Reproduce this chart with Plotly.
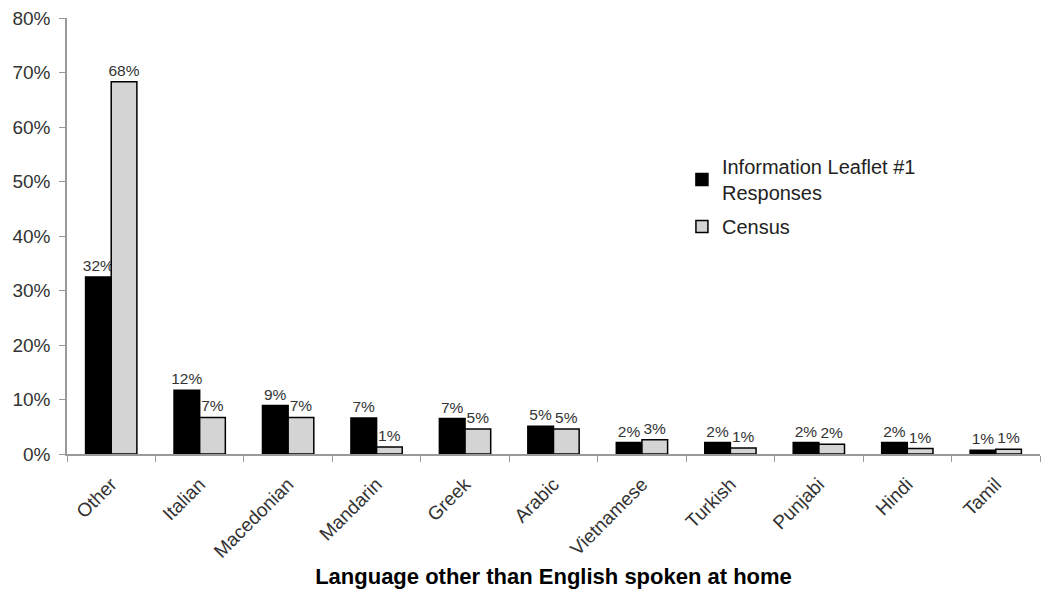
import plotly.graph_objects as go

languages = ["Other", "Italian", "Macedonian", "Mandarin", "Greek", "Arabic",
             "Vietnamese", "Turkish", "Punjabi", "Hindi", "Tamil"]
leaflet = [32.5, 11.7, 8.9, 6.6, 6.5, 5.1, 2.1, 2.1, 2.1, 2.1, 0.7]
census = [68.3, 6.7, 6.7, 1.3, 4.6, 4.6, 2.6, 1.1, 1.8, 1.0, 0.85]
leaflet_labels = ["32%", "12%", "9%", "7%", "7%", "5%", "2%", "2%", "2%", "2%", "1%"]
census_labels = ["68%", "7%", "7%", "1%", "5%", "5%", "3%", "1%", "2%", "1%", "1%"]
y_ticks = [0, 10, 20, 30, 40, 50, 60, 70, 80]
y_tick_text = [f"{v}%" for v in y_ticks]

FONT = "Liberation Sans, Arial, sans-serif"

fig = go.Figure()
fig.add_trace(go.Bar(
    x=languages, y=leaflet, name="Information Leaflet #1<br>Responses",
    legendgroup="a",
    marker=dict(color="black", line=dict(color="black", width=1.5)),
    text=leaflet_labels, textposition="outside", constraintext="none",
    textfont=dict(family=FONT, size=15.5, color="#333"), cliponaxis=False,
))
fig.add_trace(go.Bar(
    x=languages, y=census, name="Census",
    legendgroup="b",
    marker=dict(color="#d4d4d4", line=dict(color="black", width=1.5)),
    text=census_labels, textposition="outside", constraintext="none",
    textfont=dict(family=FONT, size=15.5, color="#333"), cliponaxis=False,
))

fig.update_layout(
    width=1050, height=597,
    margin=dict(l=67, r=10, t=18, b=143),
    paper_bgcolor="white", plot_bgcolor="white",
    barmode="group", bargap=0.42, bargroupgap=0,
    font=dict(family=FONT, size=17, color="#333"),
    legend=dict(x=0.632, y=0.704, xanchor="left", yanchor="top",
                font=dict(family=FONT, size=20, color="#222"),
                bgcolor="rgba(0,0,0,0)", tracegroupgap=5,
                itemwidth=30),
    xaxis=dict(
        automargin=False,
        showline=True, linecolor="#999", linewidth=1.5,
        ticks="outside", tickson="boundaries", ticklen=6, tickcolor="#999",
        ticklabelstandoff=10,
        tickangle=-45, tickfont=dict(family=FONT, size=19, color="#333"),
        title=dict(text="<b>Language other than English spoken at home</b>",
                   font=dict(family=FONT, size=22, color="black"), standoff=8),
        showgrid=False,
    ),
    yaxis=dict(
        automargin=False,
        range=[0, 80], tickvals=y_ticks, ticktext=y_tick_text,
        showline=True, linecolor="#999", linewidth=1.5,
        ticks="outside", ticklen=6, tickcolor="#999", ticklabelstandoff=5,
        tickfont=dict(family=FONT, size=19, color="#333"),
        showgrid=False, zeroline=False,
    ),
)

fig.write_html("out.html", config={"displayModeBar": False},
               post_script="document.body.style.margin='0';")
